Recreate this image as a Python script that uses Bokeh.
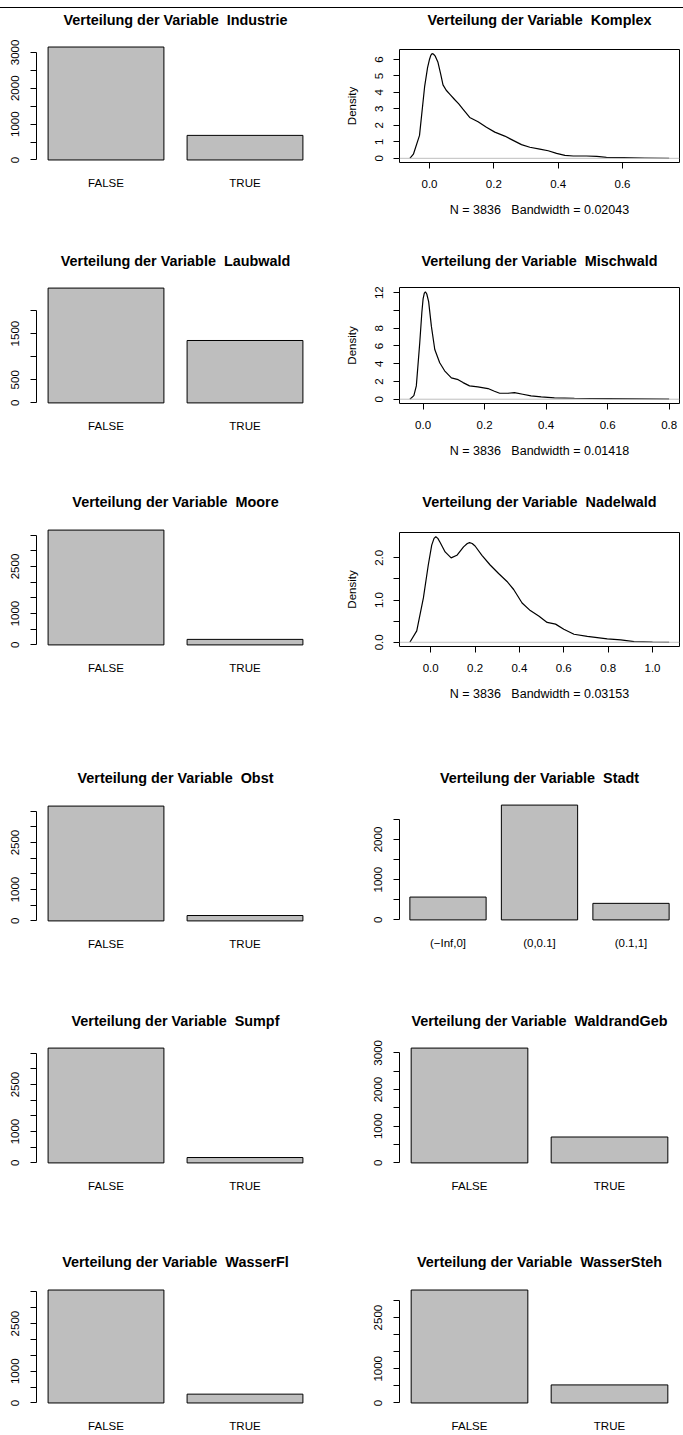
import numpy as np
from bokeh.plotting import figure
from bokeh.models import (FactorRange, Range1d, FixedTicker, CustomJSTickFormatter,
                          Span, ColumnDataSource, Div, Spacer, LinearAxis, CategoricalAxis)
from bokeh.layouts import column, row
from bokeh.embed import file_html
from bokeh.resources import INLINE

# ---------------- data ----------------
tf_cats = ["FALSE", "TRUE"]
stadt_cats = ["(\u2212Inf,0]", "(0,0.1]", "(0.1,1]"]

industrie_counts = [3150, 686]
laubwald_counts = [2485, 1351]
moore_counts = [3660, 176]
obst_counts = [3664, 172]
stadt_counts = [568, 2856, 412]
sumpf_counts = [3664, 172]
waldrand_counts = [3130, 706]
wasserfl_counts = [3558, 278]
wassersteh_counts = [3307, 529]

ticks_3000 = [0, 500, 1000, 1500, 2000, 2500, 3000]
labels_3000_a = ["0", "", "1000", "", "2000", "", "3000"]
labels_3000_b = ["0", "", "1000", "", "", "2500", ""]
ticks_2000 = [0, 500, 1000, 1500, 2000]
labels_2000 = ["0", "500", "", "1500", ""]
ticks_3500 = [0, 500, 1000, 1500, 2000, 2500, 3000, 3500]
labels_3500 = ["0", "", "1000", "", "", "2500", "", ""]
ticks_2500 = [0, 500, 1000, 1500, 2000, 2500]
labels_2500 = ["0", "", "1000", "", "2000", ""]

komplex_x = [-0.061, -0.05, -0.031, -0.015, -0.006, 0.0, 0.004, 0.008, 0.012, 0.018,
             0.026, 0.035, 0.042, 0.052, 0.065, 0.078, 0.091, 0.104, 0.125, 0.151,
             0.177, 0.203, 0.234, 0.26, 0.286, 0.312, 0.343, 0.369, 0.395, 0.421,
             0.447, 0.488, 0.52, 0.55, 0.602, 0.67, 0.745]
komplex_y = [0.0, 0.25, 1.39, 4.37, 5.5, 6.0, 6.25, 6.35, 6.33, 6.2,
             5.85, 5.1, 4.46, 4.13, 3.85, 3.57, 3.3, 2.98, 2.48, 2.22,
             1.88, 1.59, 1.35, 1.09, 0.83, 0.67, 0.56, 0.46, 0.30, 0.18,
             0.14, 0.14, 0.12, 0.06, 0.04, 0.02, 0.0]
komplex_sub = "N = 3836 \u00a0 Bandwidth = 0.02043"

misch_x = [-0.043, -0.03, -0.022, -0.011, -0.004, 0.0, 0.004, 0.0076, 0.012, 0.018,
           0.027, 0.038, 0.054, 0.07, 0.092, 0.114, 0.13, 0.151, 0.178, 0.211,
           0.232, 0.249, 0.276, 0.297, 0.324, 0.351, 0.384, 0.427, 0.492, 0.6,
           0.708, 0.8]
misch_y = [0.0, 0.4, 1.5, 6.3, 9.8, 11.3, 11.95, 12.1, 11.85, 11.0,
           8.2, 5.6, 4.1, 3.2, 2.4, 2.2, 1.87, 1.5, 1.38, 1.2,
           0.9, 0.67, 0.67, 0.75, 0.56, 0.37, 0.26, 0.15, 0.11, 0.07,
           0.04, 0.0]
misch_sub = "N = 3836 \u00a0 Bandwidth = 0.01418"

nadel_x = [-0.094, -0.063, -0.033, -0.011, 0.0045, 0.015, 0.023, 0.032, 0.042, 0.065,
           0.092, 0.118, 0.148, 0.165, 0.175, 0.187, 0.2, 0.231, 0.268, 0.306,
           0.344, 0.374, 0.412, 0.449, 0.487, 0.525, 0.563, 0.6, 0.646, 0.706,
           0.796, 0.857, 0.917, 1.0, 1.075]
nadel_y = [0.0, 0.27, 1.05, 1.83, 2.3, 2.46, 2.5, 2.46, 2.37, 2.14,
           2.0, 2.06, 2.26, 2.34, 2.36, 2.34, 2.28, 2.06, 1.83, 1.63,
           1.44, 1.25, 0.93, 0.75, 0.62, 0.47, 0.43, 0.31, 0.19, 0.14,
           0.08, 0.055, 0.015, 0.004, 0.0]
nadel_sub = "N = 3836 \u00a0 Bandwidth = 0.03153"

komplex_xticks = [0.0, 0.2, 0.4, 0.6]
komplex_xlabels = ["0.0", "0.2", "0.4", "0.6"]
komplex_yticks = [0, 1, 2, 3, 4, 5, 6]
komplex_ylabels = ["0", "1", "2", "3", "4", "5", "6"]
misch_xticks = [0.0, 0.2, 0.4, 0.6, 0.8]
misch_xlabels = ["0.0", "0.2", "0.4", "0.6", "0.8"]
misch_yticks = [0, 2, 4, 6, 8, 10, 12]
misch_ylabels = ["0", "2", "4", "6", "8", "", "12"]
nadel_xticks = [0.0, 0.2, 0.4, 0.6, 0.8, 1.0]
nadel_xlabels = ["0.0", "0.2", "0.4", "0.6", "0.8", "1.0"]
nadel_yticks = [0.0, 0.5, 1.0, 1.5, 2.0]
nadel_ylabels = ["0.0", "", "1.0", "", "2.0"]

PREFIX = "Verteilung der Variable \u00a0"

# ---------------- styling ----------------
FONT = "Liberation Sans"
TICK_FS = "11.5px"
SUB_FS = "12.5px"
TITLE_FS = "14.4px"
GREY = "#BEBEBE"

LEFT = dict(W=341, bl=36, br=27)
RIGHT = dict(W=342, bl=58, br=4)


def fmt(ticks, labels):
    return CustomJSTickFormatter(
        args=dict(tk=ticks, lb=labels),
        code="for (let i = 0; i < tk.length; i++) { if (Math.abs(tk[i] - tick) < 1e-9) return lb[i]; } return '';")


def make_fig(col, H, bt, bb, x_range, y_range):
    p = figure(width=col["W"], height=H, x_range=x_range, y_range=y_range,
               output_backend="svg", toolbar_location=None,
               min_border_left=col["bl"], min_border_right=col["br"],
               min_border_top=bt, min_border_bottom=bb)
    p.xgrid.visible = False
    p.ygrid.visible = False
    p.background_fill_color = "white"
    p.border_fill_color = "white"
    return p


def style_y(ax, ticks, labels, standoff):
    ax.ticker = FixedTicker(ticks=ticks)
    ax.bounds = (ticks[0], ticks[-1])
    ax.formatter = fmt(ticks, labels)
    ax.major_label_orientation = "vertical"
    ax.major_label_text_font = FONT
    ax.major_label_text_font_size = TICK_FS
    ax.major_label_text_color = "black"
    ax.major_label_standoff = standoff
    ax.axis_line_color = "black"
    ax.major_tick_line_color = "black"
    ax.minor_tick_line_color = None
    ax.major_tick_in = 0
    ax.major_tick_out = 6


def add_title(p, name, standoff, categorical):
    if categorical:
        ta = CategoricalAxis(axis_label=PREFIX + name)
        ta.major_label_text_font_size = "0px"
        ta.major_label_text_color = None
    else:
        ta = LinearAxis(ticker=FixedTicker(ticks=[]), axis_label=PREFIX + name)
    ta.axis_line_color = None
    ta.major_tick_line_color = None
    ta.minor_tick_line_color = None
    ta.major_tick_out = 0
    ta.major_tick_in = 0
    ta.major_label_standoff = 0
    ta.axis_label_standoff = standoff
    ta.axis_label_text_font = FONT
    ta.axis_label_text_font_style = "bold"
    ta.axis_label_text_font_size = TITLE_FS
    ta.axis_label_text_color = "black"
    p.add_layout(ta, "above")


def bar_panel(name, cats, counts, yticks, ylabels, col, H, bt, tstand):
    FH = 124
    bb = H - bt - FH
    ymax = max(counts)
    pad = 0.0 if len(cats) == 2 else 0.03
    p = make_fig(col, H, bt, bb,
                 FactorRange(factors=cats, range_padding=pad, range_padding_units="absolute"),
                 Range1d(-0.04 * ymax, 1.04 * ymax))
    src = ColumnDataSource(dict(cat=cats, n=counts))
    p.vbar(x="cat", top="n", bottom=0, width=1 / 1.2, source=src,
           fill_color=GREY, line_color="black", line_width=1)
    p.outline_line_color = None
    xa = p.xaxis[0]
    xa.axis_line_color = None
    xa.major_tick_line_color = None
    xa.minor_tick_line_color = None
    xa.major_tick_out = 0
    xa.major_tick_in = 0
    xa.major_label_standoff = 12
    xa.major_label_text_font = FONT
    xa.major_label_text_font_size = TICK_FS
    xa.major_label_text_color = "black"
    style_y(p.yaxis[0], yticks, ylabels, 11)
    add_title(p, name, tstand, True)
    return p


def dens_panel(name, xs, ys, xticks, xlabels, yticks, ylabels, sub, H, bt, FH, tstand):
    col = RIGHT
    bb = H - bt - FH
    xmin, xmax = min(xs), max(xs)
    span = xmax - xmin
    ymax = max(ys)
    p = make_fig(col, H, bt, bb,
                 Range1d(xmin - 0.04 * span, xmax + 0.04 * span),
                 Range1d(-0.04 * ymax, 1.04 * ymax))
    p.add_layout(Span(location=0, dimension="width", line_color=GREY, line_width=1))
    p.line(xs, ys, line_color="black", line_width=1.2)
    p.outline_line_color = "black"
    p.outline_line_width = 1
    xa = p.xaxis[0]
    xa.ticker = FixedTicker(ticks=xticks)
    xa.bounds = (xticks[0], xticks[-1])
    xa.formatter = fmt(xticks, xlabels)
    xa.major_label_text_font = FONT
    xa.major_label_text_font_size = TICK_FS
    xa.major_label_text_color = "black"
    xa.major_label_standoff = 11
    xa.axis_line_color = "black"
    xa.major_tick_line_color = "black"
    xa.minor_tick_line_color = None
    xa.major_tick_in = 0
    xa.major_tick_out = 6
    xa.axis_label = sub
    xa.axis_label_text_font = FONT
    xa.axis_label_text_font_style = "normal"
    xa.axis_label_text_font_size = SUB_FS
    xa.axis_label_text_color = "black"
    xa.axis_label_standoff = 12
    ya = p.yaxis[0]
    style_y(ya, yticks, ylabels, 10)
    ya.axis_label = "Density"
    ya.axis_label_text_font = FONT
    ya.axis_label_text_font_style = "normal"
    ya.axis_label_text_font_size = TICK_FS
    ya.axis_label_text_color = "black"
    ya.axis_label_standoff = 15
    add_title(p, name, tstand, False)
    return p


# ---------------- panels ----------------
H1, H2, H3, H4, H5, H6 = 222, 240, 275, 245, 235, 209

p_ind = bar_panel("Industrie", tf_cats, industrie_counts, ticks_3000, labels_3000_a, LEFT, H1, 32, 15)
p_lau = bar_panel("Laubwald", tf_cats, laubwald_counts, ticks_2000, labels_2000, LEFT, H2, 53, 15)
p_moo = bar_panel("Moore", tf_cats, moore_counts, ticks_3500, labels_3500, LEFT, H3, 55, 16)
p_obs = bar_panel("Obst", tf_cats, obst_counts, ticks_3500, labels_3500, LEFT, H4, 56, 16)
p_sum = bar_panel("Sumpf", tf_cats, sumpf_counts, ticks_3500, labels_3500, LEFT, H5, 53, 15)
p_wfl = bar_panel("WasserFl", tf_cats, wasserfl_counts, ticks_3500, labels_3500, LEFT, H6, 60, 16)

p_kom = dens_panel("Komplex", komplex_x, komplex_y, komplex_xticks, komplex_xlabels,
                   komplex_yticks, komplex_ylabels, komplex_sub, H1, 38, 116, 22)
p_mis = dens_panel("Mischwald", misch_x, misch_y, misch_xticks, misch_xlabels,
                   misch_yticks, misch_ylabels, misch_sub, H2, 57, 116, 19)
p_nad = dens_panel("Nadelwald", nadel_x, nadel_y, nadel_xticks, nadel_xlabels,
                   nadel_yticks, nadel_ylabels, nadel_sub, H3, 62, 114, 23)
p_sta = bar_panel("Stadt", stadt_cats, stadt_counts, ticks_2500, labels_2500, RIGHT, H4, 55, 15)
p_wal = bar_panel("WaldrandGeb", tf_cats, waldrand_counts, ticks_3000, labels_3000_a, RIGHT, H5, 53, 15)
p_wst = bar_panel("WasserSteh", tf_cats, wassersteh_counts, ticks_3000, labels_3000_b, RIGHT, H6, 60, 16)

top_gap = Spacer(width=683, height=7)
topline = Div(text="", width=683, height=1, margin=0, styles={"background-color": "black"})

left_col = column(p_ind, p_lau, p_moo, p_obs, p_sum, p_wfl)
right_col = column(p_kom, p_mis, p_nad, p_sta, p_wal, p_wst)

layout = column(top_gap, topline, row(left_col, right_col))

open("out.html", "w").write(file_html(layout, INLINE))
